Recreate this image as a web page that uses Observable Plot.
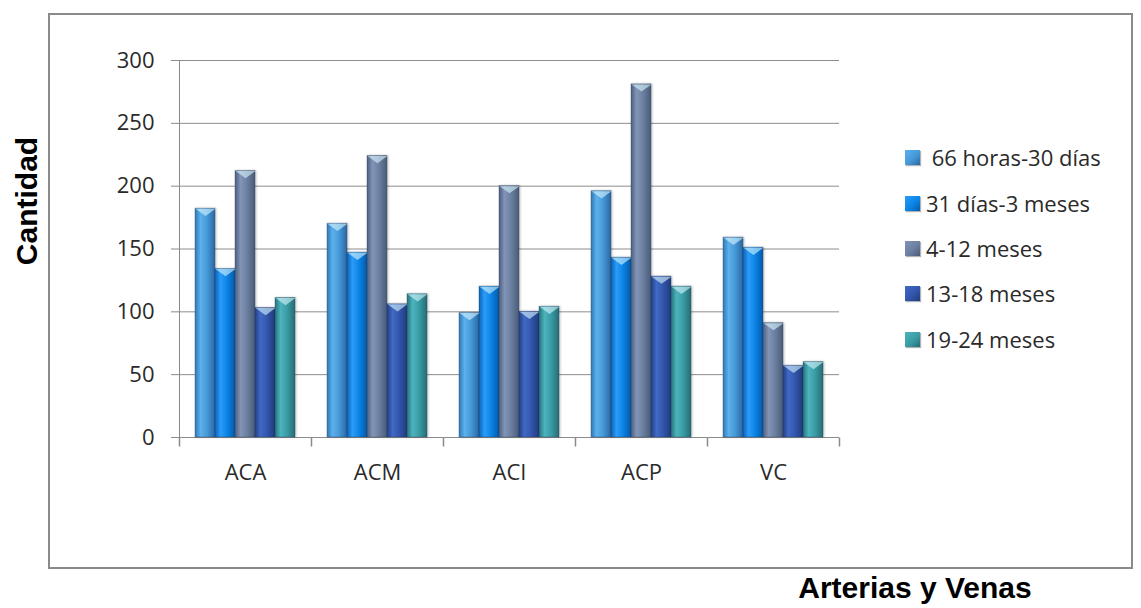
<!DOCTYPE html>
<html>
<head>
<meta charset="utf-8">
<script src="https://cdn.jsdelivr.net/npm/d3@7"></script>
<script src="https://cdn.jsdelivr.net/npm/@observablehq/plot@0.6"></script>
<style>
  body { margin: 0; background: #fff; }
  #wrap { position: relative; width: 1141px; height: 608px; overflow: hidden; background: #fff; }
  #box { position: absolute; left: 48px; top: 13px; width: 1085px; height: 556px; border: 2px solid #8a8a8a; box-sizing: border-box; }
  #chart { position: absolute; left: 0; top: 0; }
  #chart svg text { fill: #2a2a2a; }
  #chart g[aria-label="bar"] rect { filter: drop-shadow(1.5px 0.5px 1px rgba(0,0,0,0.28)); }
  .legend-row { position: absolute; left: 905px; height: 24px; display: flex; align-items: center; transform: translateY(-50%);
    font-family: "Open Sans", sans-serif; font-size: 22px; color: #2a2a2a; white-space: pre; }
  .swatch { width: 15px; height: 15px; margin-right: 6px; box-shadow: 1px 1px 1px rgba(0,0,0,0.3); }
  .axis-title { position: absolute; font-family: "Liberation Sans", Arial, sans-serif; font-weight: bold; font-size: 30px; color: #000; line-height: 1; white-space: nowrap; }
</style>
</head>
<body>
<div id="wrap">
  <div id="box"></div>
  <div id="chart"></div>
  <div id="legend"></div>
  <div class="axis-title" style="left:27px;top:201px;transform:translate(-50%,-50%) rotate(-90deg);">Cantidad</div>
  <div class="axis-title" style="left:915px;top:588px;transform:translate(-50%,-50%);">Arterias y Venas</div>
</div>
<script>
// Vessel groups along the horizontal axis
const categories = ["ACA", "ACM", "ACI", "ACP", "VC"];

// Age bands shown in the legend (first label keeps its leading space)
const seriesNames = [" 66 horas-30 días", "31 días-3 meses", "4-12 meses", "13-18 meses", "19-24 meses"];

// Counts per age band, one value per vessel group (ACA, ACM, ACI, ACP, VC)
const band66h30d = [182, 170, 99, 196, 159];
const band31d3m = [134, 147, 120, 143, 151];
const band4m12m = [212, 224, 200, 281, 91];
const band13m18m = [103, 106, 100, 128, 57];
const band19m24m = [111, 114, 104, 120, 60];

const yTicks = [0, 50, 100, 150, 200, 250, 300];

// Cylinder-like shading for each series: edge, highlight, body, shade
const barShades = [
  ["#2f78b8", "#5cb0ec", "#4699d8", "#2a67a2"],
  ["#0763bb", "#2c9cf7", "#0a84e6", "#055aaa"],
  ["#4d5f80", "#8395b6", "#6b7fa0", "#4a5b79"],
  ["#233f88", "#416ac4", "#3256ad", "#213b7c"],
  ["#27737d", "#4cb4bd", "#3a9ca5", "#256d76"]
];

const seriesValues = [band66h30d, band31d3m, band4m12m, band13m18m, band19m24m];
const rows = [];
categories.forEach((cat, i) => {
  seriesNames.forEach((s, j) => rows.push({cat, series: s, value: seriesValues[j][i]}));
});

// Bevelled cap on top of each bar: downward triangle whose flat side sits on the bar top
const capSymbol = {
  draw(context, size) {
    const r = Math.sqrt(size / Math.PI);
    context.moveTo(-r, 0);
    context.lineTo(r, 0);
    context.lineTo(0, 0.72 * r);
    context.closePath();
  }
};

// Short downward tick marking the edge of a category band
const edgeTick = {
  draw(context, size) {
    const r = Math.sqrt(size / Math.PI);
    context.moveTo(0, 0);
    context.lineTo(0, r);
  }
};

const plot = Plot.plot({
  width: 1141,
  height: 608,
  marginLeft: 178,
  marginRight: 302,
  marginTop: 60,
  marginBottom: 171,
  style: {fontFamily: "'Open Sans', sans-serif", fontSize: "22px", color: "#8a8a8a", background: "transparent", overflow: "visible"},
  fx: {domain: categories, padding: 0, axis: "bottom", tickSize: 0, tickPadding: 27, label: null},
  x: {domain: seriesNames, paddingInner: 0, paddingOuter: 0.673, axis: null},
  y: {domain: [0, 300], ticks: yTicks, tickSize: 8, tickPadding: 17, label: null, line: true},
  color: {domain: seriesNames, range: seriesNames.map((d, i) => `url(#bar-shade-${i})`)},
  marks: [
    Plot.ruleY(yTicks, {stroke: "#8c8c8c", strokeWidth: 1}),
    Plot.barY(rows, {fx: "cat", x: "series", y: "value", fill: "series", stroke: "#1d3557", strokeOpacity: 0.3, strokeWidth: 1}),
    Plot.dot(rows, {fx: "cat", x: "series", y: "value", symbol: capSymbol, r: 10, fill: "#d9f7ff", fillOpacity: 0.6, stroke: "none"}),
    Plot.dot(categories, {fx: d => d, frameAnchor: "bottom-left", symbol: edgeTick, r: 9, fill: "none", stroke: "#8a8a8a"}),
    Plot.dot(categories.slice(-1), {fx: d => d, frameAnchor: "bottom-right", symbol: edgeTick, r: 9, fill: "none", stroke: "#8a8a8a"})
  ]
});

// Gradient definitions referenced by the bar fills
const defs = d3.select(plot).insert("defs", ":first-child");
barShades.forEach((c, i) => {
  const g = defs.append("linearGradient").attr("id", `bar-shade-${i}`).attr("x1", 0).attr("x2", 1).attr("y1", 0).attr("y2", 0);
  [[0, c[0]], [0.28, c[1]], [0.6, c[2]], [1, c[3]]].forEach(([o, col]) => g.append("stop").attr("offset", o).attr("stop-color", col));
});

document.getElementById("chart").appendChild(plot);

// Legend, one row per age band
const legendTops = [157, 203, 248, 293, 339];
const legend = d3.select("#legend");
seriesNames.forEach((s, i) => {
  const c = barShades[i];
  const row = legend.append("div").attr("class", "legend-row").style("top", legendTops[i] + "px");
  row.append("div").attr("class", "swatch")
    .style("background", `linear-gradient(135deg, ${c[1]} 0%, ${c[2]} 55%, ${c[3]} 100%)`);
  row.append("span").text(s);
});
</script>
</body>
</html>
